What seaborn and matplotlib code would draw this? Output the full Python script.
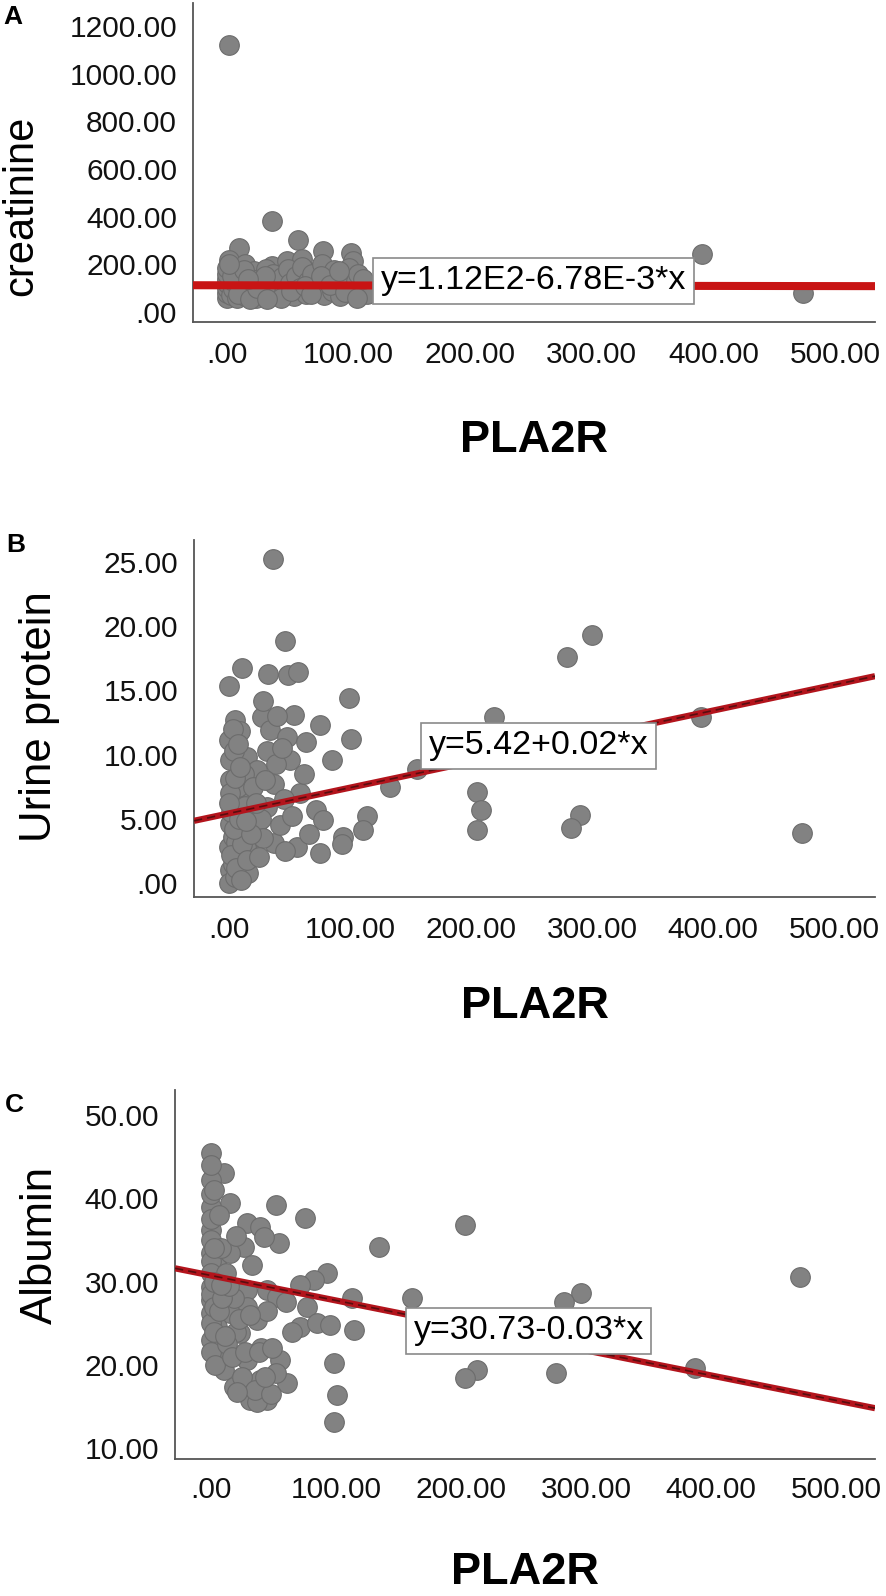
import matplotlib
matplotlib.use("Agg")
import matplotlib.pyplot as plt
import seaborn as sns

# ---------------- DATA ----------------
# panel A: PLA2R vs creatinine
pla2r_a = [2, 37, 58, 79, 10, 102, 391, 474, 2, 37, 49, 62, 74, 104,
           0, 0, 0, 0, 0, 0, 0, 3, 5, 5, 6, 8, 10, 12, 12, 15, 15, 18, 20, 22,
           24, 26, 28, 30, 32, 34, 36, 38, 40, 42, 45, 47, 50, 52, 55, 57, 60,
           62, 65, 67, 70, 72, 75, 78, 80, 83, 86, 88, 90, 93, 95, 98, 100,
           103, 106, 108, 112, 115, 112,
           4, 9, 14, 19, 25, 31, 44, 53, 64, 69, 77, 85, 92, 97, 107, 2, 17, 33]
creatinine = [1120, 380, 300, 255, 270, 248, 243, 80, 220, 192, 213, 221, 171, 213,
              60, 80, 100, 120, 140, 160, 185, 70, 95, 130, 170, 60, 110, 150, 85,
              200, 65, 120, 95, 170, 60, 140, 110, 75, 180, 130, 95, 160, 70, 115,
              145, 85, 180, 120, 65, 150, 100, 190, 75, 130, 160, 95, 115, 200, 70,
              140, 90, 175, 120, 65, 150, 100, 185, 80, 130, 160, 95, 75, 140,
              150, 75, 175, 55, 100, 150, 60, 90, 110, 75, 150, 115, 170, 85, 60,
              200, 140, 55]

# panel B: PLA2R vs urine protein
pla2r_b = [36.6, 46, 10.5, 0, 32.5, 49, 57, 99, 54, 75, 101, 85, 5, 0, 27, 34, 48,
           1, 15, 31, 50, 1, 23, 37, 59, 72, 133, 114, 111, 94, 93, 75, 56, 37, 23,
           9, 1, 0, 1, 0, 12, 20, 3, 17, 3, 31, 78, 39, 155, 279, 300, 390, 474,
           205, 208, 205, 290, 283, 219,
           5, 8, 3, 6, 10, 14, 2, 7, 12, 4, 9, 20, 26, 28, 42, 45, 62, 66, 40,
           44, 28, 64, 46, 16,
           2, 6, 11, 4, 8, 13, 1, 5, 9, 15, 18, 3, 7, 22, 0, 10, 14, 25, 30, 52]
urine_protein = [25.2, 18.8, 16.7, 15.3, 16.3, 16.2, 16.4, 14.4, 13.1, 12.3, 11.2,
                 9.6, 12.7, 11.1, 12.9, 11.9, 11.4, 9.6, 9.8, 10.3, 9.6, 8, 8.8, 7.7,
                 7, 5.7, 7.5, 5.2, 4.1, 3.6, 3, 2.3, 2.8, 3.1, 4.6, 5.4, 4.6, 2.8, 1,
                 0, 1.5, 2.3, 3.6, 6.7, 6.7, 5.9, 4.9, 9.3, 8.9, 17.6, 19.3, 12.9, 3.9,
                 7.1, 5.7, 4.1, 5.3, 4.3, 12.9,
                 0.5, 2, 1.5, 3.2, 4, 2.8, 5.5, 7.5, 8.5, 10.3, 11.8, 7.5, 5, 3.5,
                 4.5, 6.5, 8.5, 3.8, 13, 10.5, 14.2, 11, 2.5, 0.8,
                 2.2, 1.2, 3, 4.2, 5, 6, 7, 8.2, 9, 1.8, 3.8, 12, 10.8, 6.2, 6.2,
                 0.2, 4.8, 2, 8, 5.2]

# panel C: PLA2R vs albumin
pla2r_c = [0, 10, 15, 52, 75, 28.5, 39, 54, 26, 134, 0, 0, 0, 0, 4.5, 15, 92.5, 82,
           71, 112.5, 160.5, 0, 28.5, 44.5, 52.5, 28.5, 0, 76.5, 15, 36.5, 71, 84.5,
           95, 114, 0, 7, 23, 10, 28.5, 55, 39, 31, 44.5, 60.5, 98, 100.5, 98, 0,
           4.5, 18, 36.5, 42, 203.5, 470.7, 296, 282, 212.6, 203.5, 276, 387,
           0, 0, 0, 0, 0, 0, 0, 0, 0, 3, 5, 8, 6, 12, 18, 20, 13, 25, 35, 48, 52,
           40, 33, 20, 45, 60, 65,
           2, 2, 2, 2, 2, 6, 9, 11, 14, 17, 22, 27, 31, 38, 43, 49, 21, 8]
albumin = [45.4, 43, 39.4, 39.2, 37.6, 37, 36.6, 34.6, 34.2, 34.2, 42.2, 39, 36.2,
           33.4, 31.8, 33.4, 31, 30.2, 29.6, 28, 28, 29.4, 29, 29, 28.2, 27, 26.2,
           27, 26.2, 25.4, 24.6, 25, 24.8, 24.2, 23, 22.2, 23.8, 19.4, 20.6, 20.6,
           18.2, 15.8, 15.8, 17.8, 20.2, 16.4, 13.2, 27.8, 24.6, 17.4, 15.5, 35.4,
           36.8, 30.6, 28.6, 27.6, 19.4, 18.4, 19, 19.6,
           44, 40.5, 37.5, 35, 32.5, 31, 28.5, 25, 21.5, 20, 30, 34, 38, 31, 28,
           24, 22.5, 18.5, 17, 16.5, 19, 22, 32, 35.5, 26.5, 27.5, 24,
           41, 34, 30, 27, 24, 26.5, 28, 23.5, 29.5, 21, 25.5, 21.5, 26, 21.5,
           18.5, 22, 16.8, 29.6]

# fitted lines (intercept, slope) and their labels
fit_a = (112.0, -0.00678)
fit_b = (5.42, 0.02)
fit_c = (30.73, -0.03)
eq_a = "y=1.12E2-6.78E-3*x"
eq_b = "y=5.42+0.02*x"
eq_c = "y=30.73-0.03*x"

x_ticks = [0, 100, 200, 300, 400, 500]
x_ticklabels = [".00", "100.00", "200.00", "300.00", "400.00", "500.00"]
y_ticks_a = [0, 200, 400, 600, 800, 1000, 1200]
y_ticklabels_a = [".00", "200.00", "400.00", "600.00", "800.00", "1000.00", "1200.00"]
y_ticks_b = [0, 5, 10, 15, 20, 25]
y_ticklabels_b = [".00", "5.00", "10.00", "15.00", "20.00", "25.00"]
y_ticks_c = [10, 20, 30, 40, 50]
y_ticklabels_c = ["10.00", "20.00", "30.00", "40.00", "50.00"]

# ---------------- STYLE ----------------
sns.set_style("white")
plt.rcParams['font.family'] = ['Liberation Sans', 'DejaVu Sans']
plt.rcParams['text.color'] = 'black'
plt.rcParams['axes.labelcolor'] = 'black'

W, H = 886, 1596
fig = plt.figure(figsize=(W / 100, H / 100), dpi=100)


def px_rect(left, top, right, bottom):
    return [left / W, 1 - bottom / H, (right - left) / W, (bottom - top) / H]


def panel(rect, xs, ys, fit, eq, eq_pos, xlim, ylim, yticks, yticklabels,
          ylabel, ylabel_px, xlabel_py, letter, letter_px, xpad, line_style):
    ax = fig.add_axes(px_rect(*rect))
    sns.scatterplot(x=xs, y=ys, ax=ax, s=200, color="#828282",
                    edgecolor="#6c6c6c", linewidth=0.8, zorder=2, legend=False)
    color, lw, core = line_style
    ax.axline((0, fit[0]), slope=fit[1], color=color, lw=lw, zorder=3,
              solid_capstyle="butt")
    if core:
        ax.axline((0, fit[0]), slope=fit[1], color="#3a0b0b", lw=1.2,
                  ls=(0, (5, 3)), alpha=0.75, zorder=3)
    ax.text(eq_pos[0], eq_pos[1], eq, fontsize=24.5, ha="center", va="center",
            zorder=4, bbox=dict(boxstyle="square,pad=0.22", fc="white",
                                ec="#8a8a8a", lw=1.2))
    ax.set_xlim(*xlim)
    ax.set_ylim(*ylim)
    ax.set_xticks(x_ticks)
    ax.set_xticklabels(x_ticklabels)
    ax.set_yticks(yticks)
    ax.set_yticklabels(yticklabels)
    ax.tick_params(axis="both", length=0, labelsize=21.5, colors="#111111")
    ax.tick_params(axis="x", pad=xpad)
    ax.tick_params(axis="y", pad=11.5)
    for side in ["top", "right"]:
        ax.spines[side].set_visible(False)
    for side in ["left", "bottom"]:
        ax.spines[side].set_color("#555555")
        ax.spines[side].set_linewidth(1.3)
    ax.set_xlabel("PLA2R", fontsize=32.5, fontweight="bold", va="center")
    ax.xaxis.set_label_coords(((rect[0] + rect[2]) / 2) / W, 1 - xlabel_py / H,
                              transform=fig.transFigure)
    ax.set_ylabel(ylabel, fontsize=ylabel_px[2], va="center", ha="center")
    ax.yaxis.set_label_coords(ylabel_px[0] / W, 1 - ylabel_px[1] / H,
                              transform=fig.transFigure)
    fig.text(letter_px[0] / W, 1 - letter_px[1] / H, letter, fontsize=19,
             fontweight="bold", ha="center", va="center")
    return ax


# ---------------- A ----------------
panel((193, 3, 875, 322), pla2r_a, creatinine, fit_a, eq_a, (252, 130),
      (-28, 533), (-42, 1296), y_ticks_a, y_ticklabels_a, "creatinine",
      (21, 206, 30), 440, "A", (13, 17), 14, ("#c81414", 5.8, False))

# ---------------- B ----------------
panel((194, 540, 875, 897), pla2r_b, urine_protein, fit_b, eq_b, (256, 10.7),
      (-29, 534), (-1.09, 26.7), y_ticks_b, y_ticklabels_b, "Urine protein",
      (40, 717, 31.5), 1007, "B", (16, 545), 14, ("#b3141c", 4.5, True))

# ---------------- C ----------------
panel((175, 1090, 875, 1459), pla2r_c, albumin, fit_c, eq_c, (254, 24.1),
      (-28.8, 531), (8.7, 53), y_ticks_c, y_ticklabels_c, "Albumin",
      (40, 1245, 31.5), 1573, "C", (14, 1105), 12, ("#b3141c", 4.5, True))

plt.savefig("out.png", dpi=100)
